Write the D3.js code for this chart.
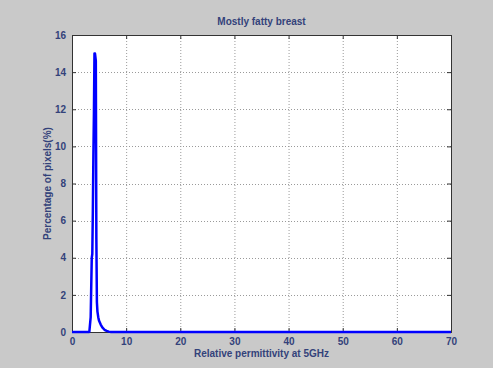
<!DOCTYPE html>
<html>
<head>
<meta charset="utf-8">
<script src="https://cdn.jsdelivr.net/npm/d3@7"></script>
<style>
  html, body { margin: 0; padding: 0; background: #c9c9c9; }
  svg { display: block; }
  text { font-family: "Liberation Sans", Arial, sans-serif; font-weight: bold; fill: #33427a; }
</style>
</head>
<body>
<svg id="chart" width="493" height="368"></svg>
<script>
// Histogram of relative permittivity (5 GHz) for a mostly fatty breast
const permittivity = [0, 3.2, 3.45, 3.65, 3.75, 3.85, 3.95, 4.05, 4.15, 4.25, 4.4, 4.5, 4.6, 4.7, 4.85, 5.0, 5.3, 5.6, 6.0, 6.4, 6.8, 7.2, 70];
const percentPixels = [0, 0, 0.8, 4.0, 4.2, 6.5, 9.5, 11.8, 15.0, 15.0, 14.6, 5.0, 1.6, 1.1, 0.8, 0.6, 0.4, 0.25, 0.12, 0.06, 0.02, 0, 0];
const xTicks = [0, 10, 20, 30, 40, 50, 60, 70];
const yTicks = [0, 2, 4, 6, 8, 10, 12, 14, 16];

const svg = d3.select("#chart");
const plot = { left: 72, right: 451, top: 35, bottom: 332 };

const x = d3.scaleLinear().domain([0, 70]).range([plot.left, plot.right]);
const y = d3.scaleLinear().domain([0, 16]).range([plot.bottom, plot.top]);

// plot area
svg.append("rect")
  .attr("x", plot.left).attr("y", plot.top)
  .attr("width", plot.right - plot.left).attr("height", plot.bottom - plot.top)
  .attr("fill", "#ffffff");

// dotted grid
const grid = svg.append("g").attr("stroke", "#9a9a9a").attr("stroke-width", 1).attr("stroke-dasharray", "1,2");
grid.selectAll(".vx").data(xTicks.slice(1, -1)).join("line")
  .attr("x1", d => x(d) + 0.5).attr("x2", d => x(d) + 0.5)
  .attr("y1", plot.top).attr("y2", plot.bottom);
grid.selectAll(".hy").data(yTicks.slice(1, -1)).join("line")
  .attr("y1", d => Math.round(y(d)) + 0.5).attr("y2", d => Math.round(y(d)) + 0.5)
  .attr("x1", plot.left).attr("x2", plot.right);

// axes with inward ticks
const xAxis = svg.append("g").attr("transform", `translate(0,${plot.bottom})`)
  .call(d3.axisBottom(x).tickValues(xTicks).tickSize(-4).tickPadding(6));
const xAxisTop = svg.append("g").attr("transform", `translate(0,${plot.top})`)
  .call(d3.axisTop(x).tickValues(xTicks).tickSize(-4).tickFormat(""));
const yAxis = svg.append("g").attr("transform", `translate(${plot.left},0)`)
  .call(d3.axisLeft(y).tickValues(yTicks).tickSize(-4).tickPadding(6));
const yAxisRight = svg.append("g").attr("transform", `translate(${plot.right},0)`)
  .call(d3.axisRight(y).tickValues(yTicks).tickSize(-4).tickFormat(""));

[xAxis, xAxisTop, yAxis, yAxisRight].forEach(g => {
  g.selectAll("path.domain").attr("stroke", "#333333");
  g.selectAll(".tick line").attr("stroke", "#333333");
  g.selectAll("text").attr("font-size", 10).attr("font-weight", "bold")
    .attr("fill", "#33427a").attr("font-family", "Liberation Sans, Arial, sans-serif");
});

// histogram curve
const line = d3.line().x(d => x(d[0])).y(d => y(d[1]));
svg.append("path")
  .datum(d3.zip(permittivity, percentPixels))
  .attr("d", line)
  .attr("fill", "none")
  .attr("stroke", "#0000ff")
  .attr("stroke-width", 2.5)
  .attr("stroke-linejoin", "round");

// labels
svg.append("text").attr("x", (plot.left + plot.right) / 2).attr("y", 25)
  .attr("text-anchor", "middle").attr("font-size", 10).text("Mostly fatty breast");
svg.append("text").attr("x", (plot.left + plot.right) / 2).attr("y", 357)
  .attr("text-anchor", "middle").attr("font-size", 10).text("Relative permittivity at 5GHz");
svg.append("text")
  .attr("transform", `translate(51,${(plot.top + plot.bottom) / 2}) rotate(-90)`)
  .attr("text-anchor", "middle").attr("font-size", 10).text("Percentage of pixels(%)");
</script>
</body>
</html>
